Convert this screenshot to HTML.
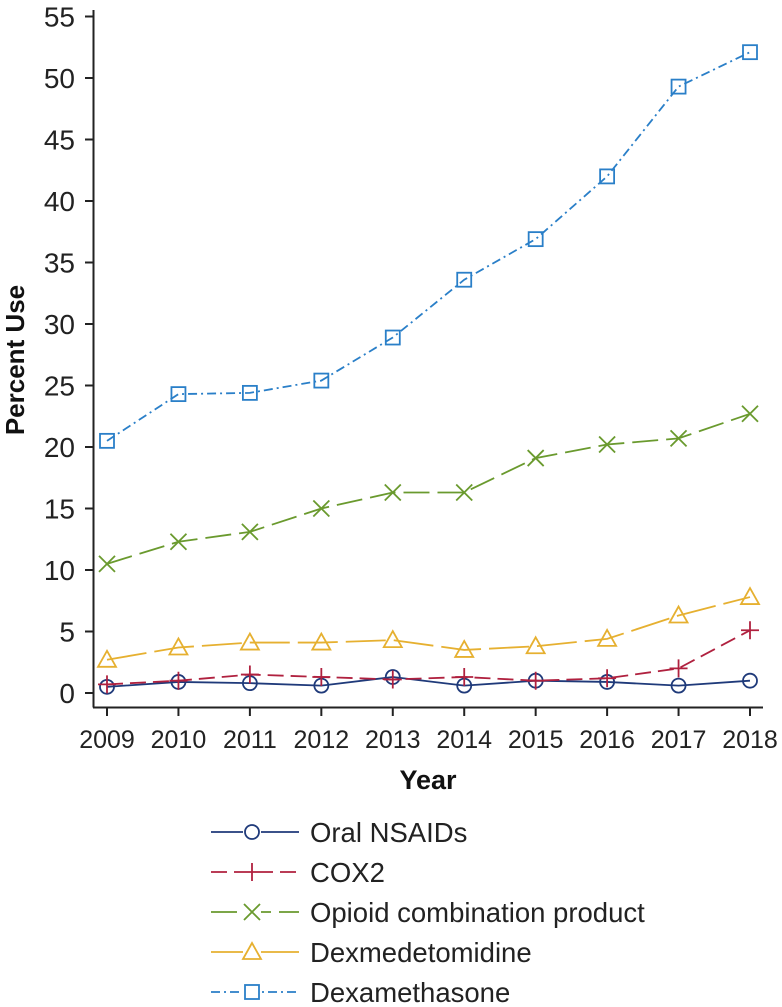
<!DOCTYPE html>
<html><head><meta charset="utf-8"><style>
body{margin:0;background:#fff;}
svg{display:block;font-family:"Liberation Sans",Arial,sans-serif;}
</style></head><body>
<svg id="chart" width="782" height="1007"></svg>
<script>
const years=[2009,2010,2011,2012,2013,2014,2015,2016,2017,2018];
const yTicks=[0,5,10,15,20,25,30,35,40,45,50,55];
const nsaids=[0.5,0.9,0.8,0.6,1.3,0.6,1.0,0.9,0.6,1.0];
const cox2=[0.7,1.0,1.5,1.3,1.1,1.3,1.0,1.2,2.0,5.1];
const opioid=[10.5,12.3,13.1,15.0,16.3,16.3,19.1,20.2,20.7,22.7];
const dexmed=[2.7,3.7,4.1,4.1,4.3,3.5,3.8,4.4,6.3,7.8];
const dexameth=[20.5,24.3,24.4,25.4,28.9,33.6,36.9,42.0,49.3,52.1];
const seriesNames=["Oral NSAIDs","COX2","Opioid combination product","Dexmedetomidine","Dexamethasone"];

const NS="http://www.w3.org/2000/svg";
const svg=document.getElementById('chart');
function el(t,a,p){const e=document.createElementNS(NS,t);for(const k in a)e.setAttribute(k,a[k]);(p||svg).appendChild(e);return e;}
const x=i=>107+(750-107)*(years[i]-years[0])/(years[years.length-1]-years[0]);
const y=v=>693-v*(693-16.5)/55;

const ax=el('g',{});


el('line',{x1:93.5,y1:10,x2:93.5,y2:707.5,stroke:'#222','stroke-width':2},ax);
el('line',{x1:93,y1:707.5,x2:763,y2:707.5,stroke:'#222','stroke-width':2},ax);
yTicks.forEach(v=>{
  el('line',{x1:85,y1:y(v),x2:93,y2:y(v),stroke:'#222','stroke-width':2},ax);
  const t=el('text',{x:75,y:y(v)+10,'text-anchor':'end','font-size':28,fill:'#222'},ax);
  t.textContent=v;
  
  
});
years.forEach((yr,i)=>{
  el('line',{x1:x(i),y1:707,x2:x(i),y2:716,stroke:'#222','stroke-width':2},ax);
  const t=el('text',{x:x(i),y:748,'text-anchor':'middle','font-size':25,fill:'#222'},ax);
  t.textContent=yr;
  
  
});
const yt=el('text',{x:0,y:0,transform:'translate(24,360) rotate(-90)','text-anchor':'middle','font-size':26,'font-weight':'bold',fill:'#111'});
yt.textContent='Percent Use';


const xt=el('text',{x:428,y:789,'text-anchor':'middle','font-size':27,'font-weight':'bold',fill:'#111'});
xt.textContent='Year';



function marker(type,cx,cy,color,g){
  const s={fill:'none',stroke:color,'stroke-width':1.8};
  if(type==='o')el('circle',Object.assign({cx,cy,r:7},s),g);
  if(type==='+')el('path',Object.assign({d:`M${cx-9},${cy}H${cx+9}M${cx},${cy-9}V${cy+9}`},s),g);
  if(type==='x')el('path',Object.assign({d:`M${cx-8},${cy-8}L${cx+8},${cy+8}M${cx-8},${cy+8}L${cx+8},${cy-8}`},s),g);
  if(type==='t')el('path',Object.assign({d:`M${cx},${cy-9}L${cx+9},${cy+7}L${cx-9},${cy+7}Z`},s),g);
  if(type==='s')el('rect',Object.assign({x:cx-7,y:cy-7,width:14,height:14},s),g);
}
const series=[
 {data:nsaids,color:'#1f3a7a',dash:'',m:'o',name:'series-oral-nsaids'},
 {data:cox2,color:'#b0213f',dash:'16,7',m:'+',name:'series-cox2'},
 {data:opioid,color:'#6a9a2e',dash:'26,8',m:'x',name:'series-opioid'},
 {data:dexmed,color:'#e6b030',dash:'40,8',m:'t',name:'series-dexmedetomidine'},
 {data:dexameth,color:'#2a7fc8',dash:'9,4,2,4',m:'s',name:'series-dexamethasone'}
];
series.forEach((s,si)=>{
  const g=el('g',{});
  
  
  el('path',{d:s.data.map((v,i)=>(i?'L':'M')+x(i)+','+y(v)).join(''),fill:'none',stroke:s.color,'stroke-width':1.8,'stroke-dasharray':s.dash},g);
  s.data.forEach((v,i)=>marker(s.m,x(i),y(v),s.color,g));
  const ly=832+si*40;
  const lg=el('g',{});
  
  
  el('line',{x1:211,y1:ly,x2:299,y2:ly,stroke:s.color,'stroke-width':1.8,'stroke-dasharray':s.dash},lg);
  el('rect',{x:243,y:ly-9,width:18,height:18,fill:'#fff'},lg);
  marker(s.m,252,ly,s.color,lg);
  const t=el('text',{x:310,y:ly+10,'font-size':27.5,fill:'#222'},lg);
  t.textContent=seriesNames[si];
});
</script>
</body></html>
